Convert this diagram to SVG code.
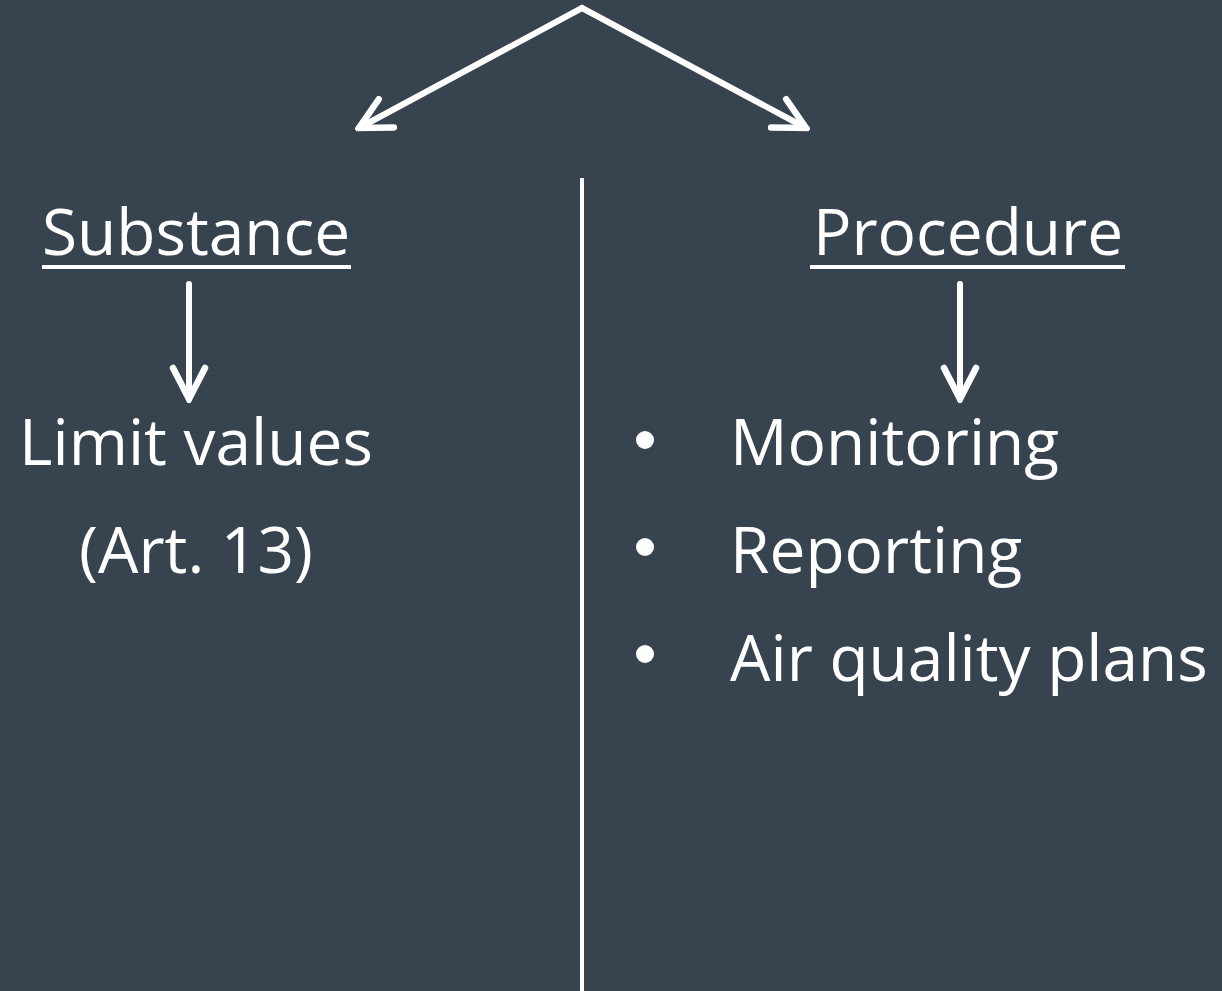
<svg xmlns="http://www.w3.org/2000/svg" width="1222" height="991" viewBox="0 0 1222 991">
<style>
.t{font-family:"Open Sans","Noto Sans","Liberation Sans",sans-serif;font-size:64px;fill:#ffffff}
.c{text-anchor:middle}
.ln{stroke:#ffffff;stroke-width:6;fill:none;stroke-linecap:round}
</style>
<defs>
<marker id="ah" markerUnits="userSpaceOnUse" viewBox="-40 -20 44 40" refX="0" refY="0" markerWidth="44" markerHeight="40" orient="auto">
<path d="M -31 -16 L 0 0 L -31 16" fill="none" stroke="#ffffff" stroke-width="6.5" stroke-linecap="round" stroke-linejoin="miter"/>
</marker>
</defs>
<rect width="1222" height="991" fill="#37434e"/>
<g id="connectors">
<line class="ln" x1="582" y1="8" x2="359" y2="128" marker-end="url(#ah)"/>
<line class="ln" x1="582" y1="8" x2="806" y2="128" marker-end="url(#ah)"/>
<line class="ln" x1="189" y1="284" x2="189" y2="399" marker-end="url(#ah)"/>
<line class="ln" x1="960" y1="284" x2="960" y2="399" marker-end="url(#ah)"/>
<line x1="582" y1="178" x2="582" y2="991" stroke="#ffffff" stroke-width="4"/>
</g>
<g id="substance">
<text class="t c" x="196" y="255">Substance</text>
<rect x="42" y="265" width="309" height="4" fill="#ffffff"/>
</g>
<g id="limit-values">
<text class="t c" x="196" y="465">Limit values</text>
<text class="t c" x="196" y="573">(Art. 13)</text>
</g>
<g id="procedure">
<text class="t c" x="968" y="255">Procedure</text>
<rect x="810" y="265" width="315" height="4" fill="#ffffff"/>
</g>
<g id="procedure-items">
<circle cx="645" cy="440" r="9" fill="#ffffff"/>
<text class="t" x="730" y="465">Monitoring</text>
<circle cx="645" cy="547" r="9" fill="#ffffff"/>
<text class="t" x="730" y="573">Reporting</text>
<circle cx="645" cy="654" r="9" fill="#ffffff"/>
<text class="t" x="730" y="681">Air quality plans</text>
</g>
</svg>
